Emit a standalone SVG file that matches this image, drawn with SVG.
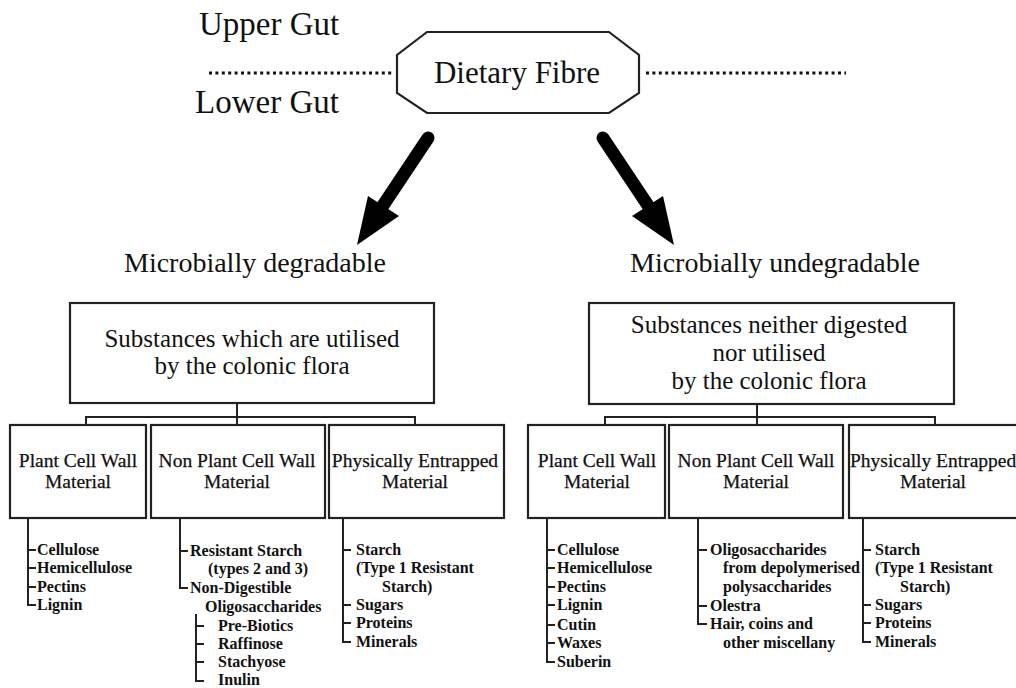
<svg xmlns="http://www.w3.org/2000/svg" width="1016" height="688" viewBox="0 0 1016 688">
<style>
text{font-family:"Liberation Serif","Tinos","Noto Serif","DejaVu Serif",serif;fill:#111}
.gut{font-size:33px}
.big{font-size:31px}
.mid{font-size:28px}
.box{font-size:25px}
.hd{font-size:19.5px;stroke:#111;stroke-width:0.25}
.li{font-size:16px;font-weight:bold}
.bx{fill:#fff;stroke:#222;stroke-width:2.2}
.ln{fill:none;stroke:#222;stroke-width:2}
.dot{fill:none;stroke:#111;stroke-width:3;stroke-dasharray:3 3.4}
.arr{stroke:#000;stroke-width:13;stroke-linecap:round}
</style>
<rect width="1016" height="688" fill="#fff"/>

<g id="gut-labels">
<text class="gut" x="199" y="35">Upper Gut</text>
<text class="gut" x="195" y="113">Lower Gut</text>
<line class="dot" x1="209" y1="73" x2="393" y2="73"/>
<line class="dot" x1="646" y1="73" x2="846" y2="73"/>
</g>

<g id="dietary-fibre">
<polygon class="bx" points="427,32 609,32 639,55 639,93 609,113 427,113 397,93 397,55"/>
<text class="big" x="517" y="83" text-anchor="middle">Dietary Fibre</text>
</g>

<g id="connectors">
<line class="arr" x1="428" y1="138" x2="380" y2="210"/>
<polygon points="357,245 368,196 399,216" fill="#000"/>
<line class="arr" x1="603" y1="138" x2="651" y2="210"/>
<polygon points="674,245 663,196 632,216" fill="#000"/>
<path class="ln" d="M237 403V425M86 425V417H415V425"/>
<path class="ln" d="M757 404V425M605 425V417H935V425"/>
<path class="ln" d="M28 518V605H36M28 550H36M28 568H36M28 587H36"/>
<path class="ln" d="M180 518V588H188M180 551H188"/>
<path class="ln" d="M196 614V681H204M196 626H204M196 644H204M196 662H204"/>
<path class="ln" d="M343 518V642H351M343 550H351M343 605H351M343 623H351"/>
<path class="ln" d="M547 518V662H555M547 550H555M547 568H555M547 587H555M547 605H555M547 625H555M547 643H555"/>
<path class="ln" d="M698 518V624H707M698 550H707M698 606H707"/>
<path class="ln" d="M863 518V642H871M863 550H871M863 605H871M863 623H871"/>
</g>

<g id="microbially-degradable">
<text class="mid" x="255" y="272" text-anchor="middle">Microbially degradable</text>
</g>
<g id="microbially-undegradable">
<text class="mid" x="775" y="272" text-anchor="middle">Microbially undegradable</text>
</g>

<g id="utilised">
<rect class="bx" x="70" y="303" width="364" height="100"/>
<text class="box" x="252" y="347" text-anchor="middle">Substances which are utilised</text>
<text class="box" x="252" y="374" text-anchor="middle">by the colonic flora</text>
</g>

<g id="not-utilised">
<rect class="bx" x="589" y="303" width="365" height="101"/>
<text class="box" x="769" y="333" text-anchor="middle">Substances neither digested</text>
<text class="box" x="769" y="361" text-anchor="middle">nor utilised</text>
<text class="box" x="769" y="389" text-anchor="middle">by the colonic flora</text>
</g>

<g id="l-plant">
<rect class="bx" x="10" y="425" width="136" height="93"/>
<text class="hd" x="78" y="467" text-anchor="middle">Plant Cell Wall</text>
<text class="hd" x="78" y="488" text-anchor="middle">Material</text>
<text class="li" x="37" y="555">Cellulose</text>
<text class="li" x="37" y="573">Hemicellulose</text>
<text class="li" x="37" y="592">Pectins</text>
<text class="li" x="37" y="610">Lignin</text>
</g>

<g id="l-nonplant">
<rect class="bx" x="151" y="425" width="174" height="93"/>
<text class="hd" x="237" y="467" text-anchor="middle">Non Plant Cell Wall</text>
<text class="hd" x="237" y="488" text-anchor="middle">Material</text>
<text class="li" x="190" y="556">Resistant Starch</text>
<text class="li" x="208" y="574">(types 2 and 3)</text>
<text class="li" x="190" y="593">Non-Digestible</text>
<text class="li" x="205" y="612">Oligosaccharides</text>
<text class="li" x="218" y="631">Pre-Biotics</text>
<text class="li" x="218" y="649">Raffinose</text>
<text class="li" x="218" y="667">Stachyose</text>
<text class="li" x="218" y="685">Inulin</text>
</g>

<g id="l-entrapped">
<rect class="bx" x="329" y="425" width="175" height="93"/>
<text class="hd" x="415" y="467" text-anchor="middle">Physically Entrapped</text>
<text class="hd" x="415" y="488" text-anchor="middle">Material</text>
<text class="li" x="356" y="555">Starch</text>
<text class="li" x="356" y="573">(Type 1 Resistant</text>
<text class="li" x="382" y="592">Starch)</text>
<text class="li" x="356" y="610">Sugars</text>
<text class="li" x="356" y="628">Proteins</text>
<text class="li" x="356" y="647">Minerals</text>
</g>

<g id="r-plant">
<rect class="bx" x="528" y="425" width="137" height="93"/>
<text class="hd" x="597" y="467" text-anchor="middle">Plant Cell Wall</text>
<text class="hd" x="597" y="488" text-anchor="middle">Material</text>
<text class="li" x="557" y="555">Cellulose</text>
<text class="li" x="557" y="573">Hemicellulose</text>
<text class="li" x="557" y="592">Pectins</text>
<text class="li" x="557" y="610">Lignin</text>
<text class="li" x="557" y="630">Cutin</text>
<text class="li" x="557" y="648">Waxes</text>
<text class="li" x="557" y="667">Suberin</text>
</g>

<g id="r-nonplant">
<rect class="bx" x="669" y="425" width="174" height="93"/>
<text class="hd" x="756" y="467" text-anchor="middle">Non Plant Cell Wall</text>
<text class="hd" x="756" y="488" text-anchor="middle">Material</text>
<text class="li" x="710" y="555">Oligosaccharides</text>
<text class="li" x="723" y="573">from depolymerised</text>
<text class="li" x="723" y="592">polysaccharides</text>
<text class="li" x="710" y="611">Olestra</text>
<text class="li" x="710" y="629">Hair, coins and</text>
<text class="li" x="723" y="648">other miscellany</text>
</g>

<g id="r-entrapped">
<rect class="bx" x="849" y="425" width="180" height="93"/>
<text class="hd" x="850" y="467">Physically Entrapped</text>
<text class="hd" x="933" y="488" text-anchor="middle">Material</text>
<text class="li" x="875" y="555">Starch</text>
<text class="li" x="875" y="573">(Type 1 Resistant</text>
<text class="li" x="900" y="592">Starch)</text>
<text class="li" x="875" y="610">Sugars</text>
<text class="li" x="875" y="628">Proteins</text>
<text class="li" x="875" y="647">Minerals</text>
</g>
</svg>
